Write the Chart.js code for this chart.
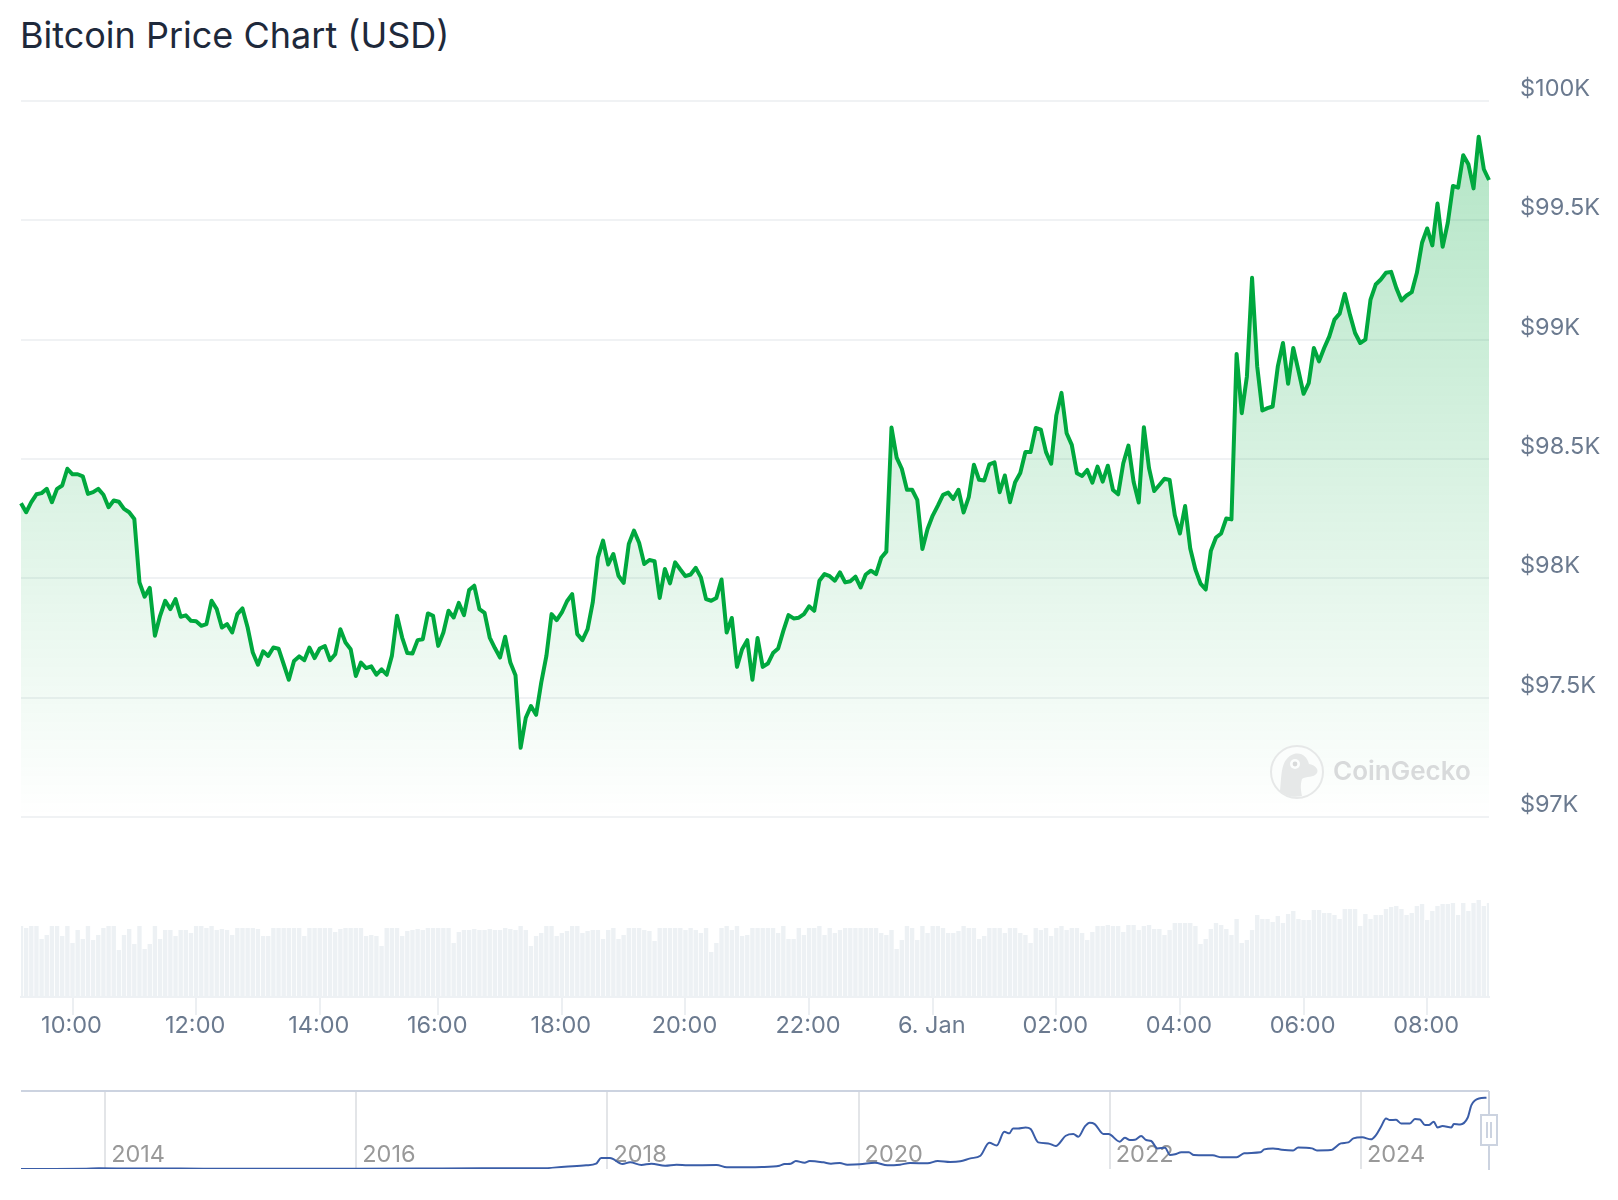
<!DOCTYPE html>
<html>
<head>
<meta charset="utf-8">
<title>Bitcoin Price Chart (USD)</title>
<script src="https://cdn.jsdelivr.net/npm/chart.js@4"></script>
<style>
  body { margin: 0; background: #fff; font-family: Inter, sans-serif; }
  #wrap { position: relative; width: 1618px; height: 1200px; overflow: hidden; }
  h1 { position: absolute; left: 20px; top: 13px; margin: 0; font-size: 36px; font-weight: 400; line-height: 44px; color: #1e293b; }
  canvas { position: absolute; left: 0; }
  #priceCanvas { top: 0; }
  #navCanvas { top: 1070px; }
  #watermark { position: absolute; left: 1270px; top: 745px; width: 220px; height: 54px; }
  #watermark span { position: absolute; left: 63px; top: 9px; font-size: 26px; font-weight: 600; line-height: 34px; color: #d8dadb; }
</style>
</head>
<body>
<div id="wrap">
  <h1>Bitcoin Price Chart (USD)</h1>
  <canvas id="priceCanvas" width="1618" height="1060"></canvas>
  <canvas id="navCanvas" width="1618" height="130"></canvas>
  <div id="watermark">
    <svg width="54" height="54" viewBox="0 0 54 54">
      <circle cx="27" cy="27" r="26" fill="#fbfdfc" stroke="#e6e8e8" stroke-width="2"/>
      <path d="M10 46 C12 30 10 14 24 9 C32 7 37 12 39 19 C45 20 49 24 47 28 C44 33 36 31 32 34 C30 40 31 46 32 51 C24 53 15 51 10 46 Z" fill="#e6e8e8"/>
      <circle cx="25" cy="19" r="5" fill="#fbfdfc"/>
      <circle cx="25" cy="19" r="2.4" fill="#d8dada"/>
    </svg>
    <span>CoinGecko</span>
  </div>
</div>

<script>
// Prix toutes les 5 minutes
const prices = [
  98315, 98277, 98319, 98352, 98357, 98375, 98319, 98375, 98389, 98459, 98436, 98436, 98427, 98354, 98361, 98375,
  98350, 98298, 98326, 98321, 98291, 98277, 98249, 97983, 97923, 97960, 97759, 97843, 97906, 97871, 97913, 97839,
  97845, 97822, 97820, 97801, 97808, 97906, 97871, 97794, 97808, 97773, 97850, 97874, 97794, 97689, 97638, 97694,
  97675, 97710, 97705, 97640, 97575, 97654, 97673, 97657, 97710, 97666, 97706, 97716, 97657, 97682, 97787, 97731,
  97703, 97591, 97647, 97624, 97631, 97596, 97619, 97596, 97675, 97843, 97752, 97687, 97685, 97741, 97745, 97853,
  97843, 97717, 97773, 97864, 97836, 97897, 97846, 97951, 97969, 97871, 97855, 97752, 97708, 97668, 97755, 97647,
  97594, 97290, 97416, 97465, 97428, 97563, 97675, 97850, 97825, 97857, 97904, 97934, 97766, 97741, 97787, 97899,
  98088, 98158, 98058, 98102, 98011, 97981, 98144, 98200, 98149, 98060, 98077, 98072, 97918, 98039, 97979, 98067,
  98037, 98009, 98016, 98044, 98004, 97913, 97906, 97918, 97995, 97773, 97834, 97629, 97703, 97741, 97575, 97750,
  97629, 97643, 97687, 97706, 97780, 97846, 97832, 97835, 97850, 97883, 97864, 97990, 98018, 98009, 97990, 98025,
  97983, 97988, 98007, 97962, 98016, 98032, 98018, 98086, 98112, 98632, 98506, 98459, 98371, 98371, 98329, 98123,
  98207, 98263, 98305, 98350, 98359, 98333, 98371, 98276, 98340, 98476, 98413, 98410, 98478, 98486, 98361, 98431,
  98319, 98403, 98441, 98529, 98529, 98630, 98623, 98529, 98480, 98683, 98777, 98608, 98559, 98440, 98429, 98454,
  98401, 98468, 98405, 98472, 98370, 98352, 98482, 98556, 98405, 98318, 98633, 98461, 98366, 98391, 98417, 98412,
  98265, 98188, 98303, 98125, 98037, 97978, 97953, 98115, 98171, 98188, 98251, 98247, 98940, 98692, 98846, 99259,
  98888, 98703, 98713, 98720, 98888, 98986, 98815, 98965, 98871, 98773, 98818, 98965, 98909, 98965, 99014, 99084,
  99109, 99192, 99105, 99028, 98986, 99000, 99168, 99231, 99252, 99280, 99284, 99217, 99164, 99185, 99199, 99280,
  99406, 99466, 99395, 99571, 99389, 99490, 99644, 99637, 99773, 99735, 99634, 99850, 99714, 99669
];

// Volume relatif (mêmes points)
const volumes = [
  71, 69, 71, 71, 58, 62, 71, 71, 61, 71, 54, 67, 58, 71, 57, 62, 69, 71, 71, 47, 62, 68, 53, 71,
  48, 53, 71, 58, 67, 67, 61, 67, 67, 64, 71, 71, 69, 71, 67, 68, 67, 62, 69, 69, 69, 69, 68, 61,
  61, 69, 69, 69, 69, 69, 69, 61, 69, 69, 69, 69, 69, 65, 68, 69, 69, 69, 69, 61, 62, 61, 51, 69,
  69, 69, 61, 66, 67, 68, 67, 69, 69, 69, 69, 69, 54, 65, 67, 67, 68, 67, 67, 68, 67, 67, 69, 68,
  67, 71, 67, 51, 61, 64, 71, 71, 61, 64, 66, 71, 71, 64, 66, 67, 67, 58, 67, 69, 58, 62, 69, 69,
  69, 67, 66, 56, 69, 69, 69, 69, 69, 67, 69, 67, 64, 69, 45, 54, 69, 71, 67, 71, 61, 62, 69, 69,
  69, 69, 69, 64, 71, 58, 58, 69, 62, 69, 69, 71, 62, 69, 64, 67, 69, 69, 69, 69, 69, 69, 69, 64,
  62, 67, 48, 57, 71, 69, 57, 71, 64, 71, 71, 69, 64, 64, 66, 71, 69, 69, 58, 61, 69, 69, 69, 64,
  69, 69, 64, 62, 54, 69, 67, 69, 61, 69, 71, 67, 69, 69, 64, 57, 65, 71, 71, 72, 71, 71, 65, 72,
  72, 67, 71, 72, 68, 68, 62, 67, 74, 74, 74, 74, 71, 53, 58, 68, 74, 72, 68, 62, 78, 54, 57, 67,
  82, 78, 78, 75, 81, 74, 83, 86, 78, 77, 77, 87, 87, 84, 84, 82, 78, 88, 88, 88, 71, 83, 78, 82,
  82, 88, 90, 91, 88, 82, 84, 91, 93, 77, 86, 91, 93, 93, 94, 82, 94, 86, 94, 97, 91, 94
];

const priceTicks = [97000, 97500, 98000, 98500, 99000, 99500, 100000];
const priceLabels = ['$97K', '$97.5K', '$98K', '$98.5K', '$99K', '$99.5K', '$100K'];
const timeLabels = ['10:00', '12:00', '14:00', '16:00', '18:00', '20:00', '22:00', '6. Jan', '02:00', '04:00', '06:00', '08:00'];

// Navigateur : historique complet
const navYears = [
  2013.33, 2013.6, 2013.85, 2013.95, 2014.2, 2014.6, 2015.0, 2015.5, 2016.0, 2016.5, 2017.0, 2017.47,
  2017.66, 2017.83, 2017.91, 2017.95, 2018.02, 2018.12, 2018.18, 2018.27, 2018.35, 2018.46, 2018.55, 2018.64,
  2018.87, 2018.95, 2019.23, 2019.37, 2019.41, 2019.46, 2019.50, 2019.57, 2019.61, 2019.72, 2019.78, 2019.85,
  2019.91, 2020.01, 2020.13, 2020.23, 2020.33, 2020.41, 2020.55, 2020.63, 2020.73, 2020.81, 2020.89, 2020.97,
  2021.04, 2021.10, 2021.16, 2021.20, 2021.23, 2021.27, 2021.33, 2021.37, 2021.43, 2021.51, 2021.57, 2021.65,
  2021.71, 2021.75, 2021.80, 2021.84, 2021.88, 2021.95, 2021.99, 2022.08, 2022.12, 2022.16, 2022.20, 2022.25,
  2022.29, 2022.33, 2022.38, 2022.44, 2022.48, 2022.52, 2022.57, 2022.63, 2022.67, 2022.82, 2022.89, 2023.01,
  2023.07, 2023.20, 2023.23, 2023.30, 2023.37, 2023.46, 2023.50, 2023.61, 2023.65, 2023.76, 2023.84, 2023.90,
  2023.94, 2024.01, 2024.08, 2024.12, 2024.16, 2024.20, 2024.23, 2024.28, 2024.32, 2024.39, 2024.43, 2024.47,
  2024.51, 2024.54, 2024.58, 2024.61, 2024.65, 2024.72, 2024.74, 2024.79, 2024.85, 2024.88, 2024.94, 2025.00
];
const navPrices = [
  130, 120, 500, 900, 650, 550, 300, 250, 430, 650, 950, 930,
  3250, 5120, 7440, 15350, 15350, 6980, 9300, 5580, 7440, 4650, 6050, 5120,
  5580, 2330, 2790, 4650, 6980, 7440, 11160, 8840, 11160, 9300, 7440, 8370,
  6050, 6510, 8840, 5120, 6050, 8370, 7900, 11160, 9770, 10700, 14880, 18600,
  36700, 33000, 52100, 49800, 56700, 56700, 58100, 55800, 37200, 35800, 32100, 46500,
  48800, 45100, 59000, 64600, 62800, 48800, 48800, 38100, 43700, 40500, 40900, 46000,
  40500, 39100, 28800, 29800, 19500, 20500, 23300, 23300, 19500, 19100, 16300, 16300,
  21900, 23300, 27400, 28800, 27000, 26000, 30200, 28800, 26000, 26500, 35800, 37200,
  42800, 44200, 41400, 47400, 59100, 70700, 68400, 68800, 63700, 63700, 69800, 69300,
  61400, 61400, 66000, 58100, 60000, 58100, 62800, 62300, 71600, 89300, 98600, 99500
];
const navTicks = [2014, 2016, 2018, 2020, 2022, 2024];

const GREY_TEXT = '#6b7a8f';
const tickFont = { family: 'Inter', size: 23.5 };

// Heures des points : de 09:10 à 09:00, un point manque vers 15:00
function buildTimes(count) {
  const times = [];
  let minutes = 9 * 60 + 10;
  for (let i = 0; i < count; i++) {
    if (minutes === 15 * 60) minutes += 5;
    const h = Math.floor(minutes / 60) % 24;
    const m = minutes % 60;
    if (h === 0 && m === 0) times.push('6. Jan');
    else times.push(String(h).padStart(2, '0') + ':' + String(m).padStart(2, '0'));
    minutes += 5;
  }
  return times;
}
const times = buildTimes(prices.length);

function areaGradient(context) {
  const { chart } = context;
  const scale = chart.scales.y;
  if (!scale || !scale.height) return 'rgba(0, 168, 62, 0.1)';
  const g = chart.ctx.createLinearGradient(0, scale.top, 0, scale.bottom);
  g.addColorStop(0, 'rgba(0, 168, 62, 0.31)');
  g.addColorStop(1, 'rgba(0, 168, 62, 0)');
  return g;
}

new Chart(document.getElementById('priceCanvas'), {
  data: {
    labels: times,
    datasets: [
      {
        type: 'line',
        data: prices,
        yAxisID: 'y',
        borderColor: '#00a83e',
        borderWidth: 4,
        borderJoinStyle: 'round',
        pointRadius: 0,
        tension: 0,
        fill: { target: { value: 97000 } },
        backgroundColor: areaGradient
      },
      {
        type: 'bar',
        data: volumes,
        yAxisID: 'yVol',
        backgroundColor: '#edf1f4',
        barPercentage: 0.85,
        categoryPercentage: 1
      }
    ]
  },
  options: {
    responsive: false,
    animation: false,
    layout: { padding: { left: 21, top: 101, right: 0, bottom: 0 } },
    plugins: { legend: { display: false }, tooltip: { enabled: false } },
    scales: {
      x: {
        offset: false,
        afterBuildTicks: (scale) => {
          scale.ticks = scale.ticks.filter(t => timeLabels.includes(scale.getLabelForValue(t.value)));
        },
        afterFit: (scale) => { scale.height = 63; },
        grid: { offset: false, drawOnChartArea: false, color: '#eceff2', lineWidth: 2, tickLength: 18 },
        border: { color: '#eef1f4', width: 2 },
        ticks: { autoSkip: false, maxRotation: 0, color: GREY_TEXT, font: tickFont, padding: -3, labelOffset: -1 }
      },
      y: {
        position: 'right',
        stack: 'main',
        stackWeight: 716,
        min: 97000,
        max: 100000,
        afterBuildTicks: (scale) => { scale.ticks = priceTicks.map(v => ({ value: v })); },
        afterFit: (scale) => { scale.width = 129; },
        grid: { color: '#f0f2f4', lineWidth: 2, drawTicks: false },
        border: { display: false },
        ticks: {
          color: GREY_TEXT,
          font: tickFont,
          padding: 31,
          crossAlign: 'near',
          labelOffset: -12,
          callback: (v) => priceLabels[priceTicks.indexOf(v)]
        }
      },
      yVol: {
        position: 'right',
        stack: 'main',
        stackWeight: 180,
        min: 0,
        max: 180,
        display: false
      }
    }
  }
});

// Cadre du navigateur et poignée de droite
const navFrame = {
  id: 'navFrame',
  afterDraw(chart) {
    const { ctx, chartArea } = chart;
    const { left, right, top, bottom } = chartArea;
    ctx.save();
    ctx.strokeStyle = '#ccd3e0';
    ctx.lineWidth = 2;
    ctx.beginPath();
    ctx.moveTo(left, top);
    ctx.lineTo(right, top);
    ctx.moveTo(right, top);
    ctx.lineTo(right, bottom + 1);
    ctx.stroke();
    ctx.fillStyle = '#fff';
    ctx.fillRect(right - 8, top + 24, 16, 30);
    ctx.strokeRect(right - 8, top + 24, 16, 30);
    ctx.beginPath();
    ctx.moveTo(right - 2, top + 31);
    ctx.lineTo(right - 2, top + 47);
    ctx.moveTo(right + 2, top + 31);
    ctx.lineTo(right + 2, top + 47);
    ctx.stroke();
    ctx.restore();
  }
};

new Chart(document.getElementById('navCanvas'), {
  type: 'line',
  data: {
    datasets: [{
      data: navYears.map((year, i) => ({ x: year, y: navPrices[i] })),
      borderColor: '#3a5da8',
      borderWidth: 2,
      pointRadius: 0,
      cubicInterpolationMode: 'monotone',
      fill: false
    }]
  },
  plugins: [navFrame],
  options: {
    responsive: false,
    animation: false,
    layout: { padding: { left: 21, top: 21, right: 129, bottom: 31 } },
    plugins: { legend: { display: false }, tooltip: { enabled: false } },
    scales: {
      x: {
        type: 'linear',
        min: 2013.33,
        max: 2025.02,
        afterBuildTicks: (scale) => { scale.ticks = navTicks.map(v => ({ value: v })); },
        afterFit: (scale) => { scale.height = 0; },
        grid: { color: '#e3e5e8', lineWidth: 2, drawTicks: false },
        border: { display: false },
        ticks: {
          autoSkip: false,
          maxRotation: 0,
          mirror: true, // sinon les libellés sont coupés, l'axe ayant une hauteur nulle
          color: '#999999',
          font: tickFont,
          align: 'start',
          labelOffset: 6,
          padding: 0,
          callback: (v) => String(v)
        }
      },
      y: { display: false, min: 0, max: 109000 }
    }
  }
});
</script>
</body>
</html>
